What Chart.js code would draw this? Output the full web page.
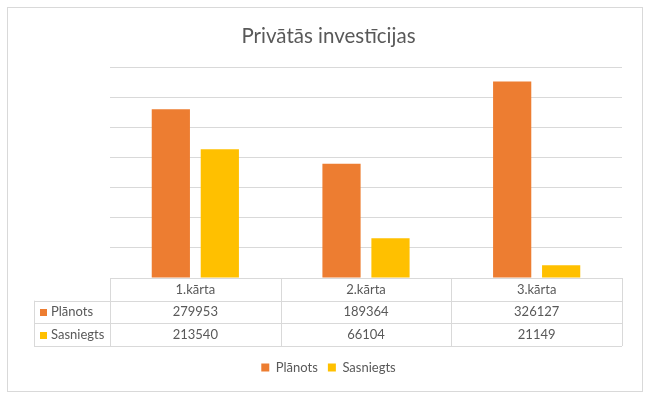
<!DOCTYPE html>
<html>
<head>
<meta charset="utf-8">
<script src="https://cdn.jsdelivr.net/npm/chart.js@4.4.1/dist/chart.umd.min.js"></script>
<style>
    html, body { margin: 0; padding: 0; background: #fff; }
    #wrap { position: relative; width: 650px; height: 399px; }
    #frame {
        position: absolute; left: 7px; top: 7px; width: 636px; height: 385px;
        border: 1px solid #d9d9d9; box-sizing: border-box; pointer-events: none;
    }
</style>
</head>
<body>
<div id="wrap">
    <canvas id="grafica" width="650" height="399"></canvas>
    <div id="frame"></div>
</div>
<script>
const categorias = ['1.kārta', '2.kārta', '3.kārta'];
const seriesNombres = ['Plānots', 'Sasniegts'];
const planots = [279953, 189364, 326127];
const sasniegts = [213540, 66104, 21149];
const ejeMax = 350000;
const ejePaso = 50000;

const colores = ['#ED7D31', '#FFC000'];
const colorTexto = '#595959';
const colorLinea = '#D9D9D9';
const fuente = 'Lato, "Open Sans", sans-serif';

// tabla de datos debajo del eje x (como en Excel)
const tablaDatos = {
    id: 'tablaDatos',
    afterDraw(chart) {
        const { ctx, chartArea } = chart;
        const x = chart.scales.x;
        const filas = [null].concat(chart.data.datasets);
        const altoFila = 68 / 3;
        const top = chartArea.bottom;
        const anchoCat = (chartArea.right - chartArea.left) / categorias.length;
        const izq = chartArea.left - 76;

        ctx.save();
        ctx.strokeStyle = colorLinea;
        ctx.lineWidth = 1;
        ctx.beginPath();
        // horizontales
        for (let r = 0; r <= filas.length; r++) {
            const y = Math.round(top + r * altoFila) + 0.5;
            ctx.moveTo(r === 0 ? chartArea.left : izq, y);
            ctx.lineTo(chartArea.right, y);
        }
        // verticales
        for (let c = 0; c <= categorias.length; c++) {
            const xx = Math.round(chartArea.left + c * anchoCat) + 0.5;
            ctx.moveTo(xx, top);
            ctx.lineTo(xx, top + filas.length * altoFila);
        }
        ctx.moveTo(Math.round(izq) + 0.5, top + altoFila);
        ctx.lineTo(Math.round(izq) + 0.5, top + filas.length * altoFila);
        ctx.stroke();

        ctx.font = '13px ' + fuente;
        ctx.fillStyle = colorTexto;
        ctx.textBaseline = 'middle';
        ctx.textAlign = 'center';
        categorias.forEach((cat, i) => {
            ctx.fillText(cat, x.getPixelForValue(i), top + altoFila / 2);
        });

        chart.data.datasets.forEach((ds, r) => {
            const yc = top + (r + 1.5) * altoFila;
            ctx.fillStyle = ds.backgroundColor;
            ctx.fillRect(izq + 6, Math.round(yc) - 3, 7, 7);
            ctx.fillStyle = colorTexto;
            ctx.textAlign = 'left';
            ctx.fillText(ds.label, izq + 17, yc);
            ctx.textAlign = 'center';
            ds.data.forEach((v, i) => {
                ctx.fillText(String(v), x.getPixelForValue(i), yc);
            });
        });
        ctx.restore();
    }
};

function initChart() {
    const ctx = document.getElementById('grafica').getContext('2d');
    new Chart(ctx, {
        type: 'bar',
        data: {
            labels: categorias,
            datasets: [
                { label: seriesNombres[0], data: planots, backgroundColor: colores[0] },
                { label: seriesNombres[1], data: sasniegts, backgroundColor: colores[1] }
            ]
        },
        options: {
            responsive: false,
            animation: false,
            categoryPercentage: 0.574,
            barPercentage: 0.78,
            layout: { padding: { left: 35, right: 28, top: 0, bottom: 15 } },
            plugins: {
                title: {
                    display: true,
                    text: 'Privātās investīcijas',
                    color: colorTexto,
                    font: { family: fuente, size: 20.5, weight: 'normal' },
                    padding: { top: 24, bottom: 18.4 }
                },
                legend: {
                    position: 'bottom',
                    labels: {
                        color: colorTexto,
                        font: { family: fuente, size: 13 },
                        boxWidth: 8,
                        boxHeight: 8,
                        padding: 10
                    }
                },
                tooltip: { enabled: false }
            },
            scales: {
                x: {
                    ticks: { display: false },
                    grid: { display: false },
                    border: { display: false },
                    afterFit: s => { s.height = 73; }
                },
                y: {
                    min: 0,
                    max: ejeMax,
                    ticks: { display: false, stepSize: ejePaso },
                    grid: { color: colorLinea, drawTicks: false },
                    border: { display: false },
                    afterFit: s => { s.width = 75; }
                }
            }
        },
        plugins: [tablaDatos]
    });
}

document.addEventListener('DOMContentLoaded', initChart);
</script>
</body>
</html>
